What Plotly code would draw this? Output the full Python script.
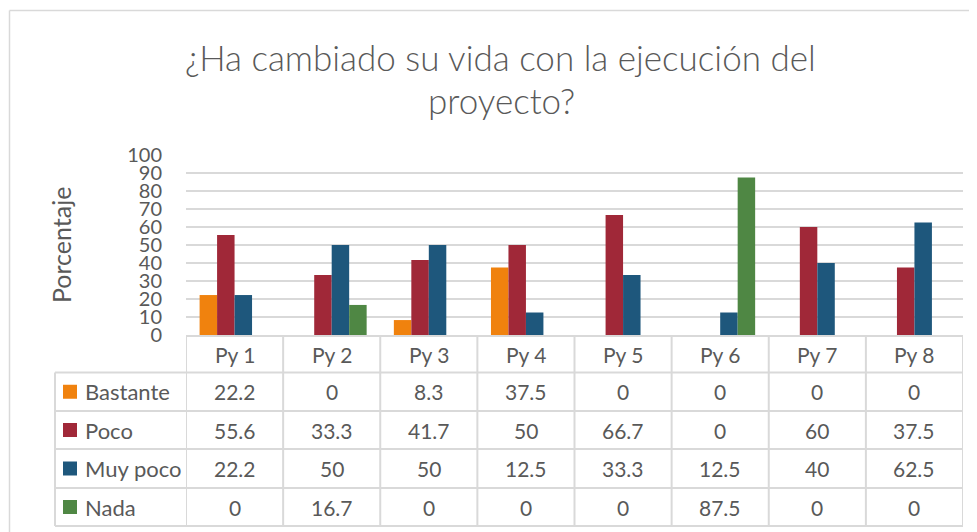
import plotly.graph_objects as go

categories = ["Py 1", "Py 2", "Py 3", "Py 4", "Py 5", "Py 6", "Py 7", "Py 8"]
series_names = ["Bastante", "Poco", "Muy poco", "Nada"]
bastante = [22.2, 0, 8.3, 37.5, 0, 0, 0, 0]
poco = [55.6, 33.3, 41.7, 50, 66.7, 0, 60, 37.5]
muy_poco = [22.2, 50, 50, 12.5, 33.3, 12.5, 40, 62.5]
nada = [0, 16.7, 0, 0, 0, 87.5, 0, 0]
y_ticks = [0, 10, 20, 30, 40, 50, 60, 70, 80, 90, 100]
title_lines = ["¿Ha cambiado su vida con la ejecución del", "proyecto?"]
y_title = "Porcentaje"

series_values = [bastante, poco, muy_poco, nada]
colors = ["#F0820E", "#A02838", "#1E577C", "#4F8744"]

# page offset (browser body margin)
OX, OY = 8, 8
W, H = 977 - OX, 532 - OY
L, T = 186 - OX, 155 - OY
R = W - (963 - OX)
B = H - (335 - OY)
PW = W - L - R
PH = H - T - B
FONT = "Lato"
TXT = "#595959"
GRID = "#D9D9D9"


def px(xp):
    # xp: pixel in window coordinates
    return (xp - OX - L) / PW


def py(yp):
    return (H - B - (yp - OY)) / PH


fig = go.Figure()
for name, vals, col in zip(series_names, series_values, colors):
    fig.add_trace(go.Bar(x=categories, y=vals, name=name, marker_color=col,
                         marker_line_width=0, showlegend=False))

shapes = []
ann = []

# outer chart border
shapes.append(dict(type="line", xref="paper", yref="paper", x0=px(9.5), x1=px(990),
                   y0=py(10.5), y1=py(10.5), line=dict(color=GRID, width=1.5)))
shapes.append(dict(type="line", xref="paper", yref="paper", x0=px(9.5), x1=px(9.5),
                   y0=py(10.5), y1=py(545), line=dict(color=GRID, width=1.5)))

# table lines
row_edges = [336, 372.5, 411, 449, 488, 526]
x_left_tab = 55
x_right = 963
for i, ye in enumerate(row_edges):
    x0 = 186 if i == 0 else x_left_tab
    shapes.append(dict(type="line", xref="paper", yref="paper", x0=px(x0), x1=px(x_right),
                       y0=py(ye), y1=py(ye), line=dict(color=GRID, width=2)))
shapes.append(dict(type="line", xref="paper", yref="paper", x0=px(x_left_tab), x1=px(x_left_tab),
                   y0=py(372.5), y1=py(526), line=dict(color=GRID, width=2)))
for k in range(len(categories) + 1):
    shapes.append(dict(type="line", xref="x", yref="paper", x0=k - 0.5, x1=k - 0.5,
                       y0=py(336), y1=py(526), line=dict(color=GRID, width=2)))

# header labels
header_c = (336 + 372.5) / 2
for i, c in enumerate(categories):
    ann.append(dict(x=i, xref="x", y=py(header_c), yref="paper", text=c, showarrow=False,
                    font=dict(family=FONT, size=21, color=TXT), xanchor="center", yanchor="middle"))

# rows
for r, (name, vals, col) in enumerate(zip(series_names, series_values, colors)):
    yc = (row_edges[r + 1] + row_edges[r + 2]) / 2
    shapes.append(dict(type="rect", xref="paper", yref="paper", x0=px(63), x1=px(77),
                       y0=py(yc - 7), y1=py(yc + 7), fillcolor=col, line=dict(width=0)))
    ann.append(dict(x=px(83), xref="paper", y=py(yc), yref="paper", text=name, showarrow=False,
                    font=dict(family=FONT, size=22, color=TXT), xanchor="left", yanchor="middle"))
    for i, v in enumerate(vals):
        ann.append(dict(x=i, xref="x", y=py(yc), yref="paper", text=f"{v:g}", showarrow=False,
                        font=dict(family=FONT, size=21, color=TXT), xanchor="center", yanchor="middle"))

# title
ann.append(dict(x=px(500), xref="paper", y=py(57), yref="paper", text=title_lines[0], showarrow=False,
                font=dict(family=FONT, size=35, color=TXT, weight=300), xanchor="center", yanchor="middle"))
ann.append(dict(x=px(501), xref="paper", y=py(100), yref="paper", text=title_lines[1], showarrow=False,
                font=dict(family=FONT, size=35, color=TXT, weight=300), xanchor="center", yanchor="middle"))

# y-axis title
ann.append(dict(x=px(61), xref="paper", y=py(245), yref="paper", text=y_title, showarrow=False,
                textangle=-90, font=dict(family=FONT, size=25, color=TXT), xanchor="center", yanchor="middle"))

fig.update_layout(
    width=W, height=H,
    margin=dict(l=L, r=R, t=T, b=B, pad=0),
    paper_bgcolor="white", plot_bgcolor="white",
    barmode="group", bargap=0.28, bargroupgap=0,
    shapes=shapes, annotations=ann,
    xaxis=dict(showticklabels=False, showgrid=False, zeroline=False, showline=False,
               range=[-0.5, len(categories) - 0.5]),
    yaxis=dict(range=[0, 100], tickvals=y_ticks, showgrid=True, gridcolor=GRID, gridwidth=2,
               zeroline=False, showline=False, ticks="outside", ticklen=19,
               tickcolor="rgba(0,0,0,0)", tickfont=dict(family=FONT, size=20, color=TXT)),
)

fig.write_html("out.html")
